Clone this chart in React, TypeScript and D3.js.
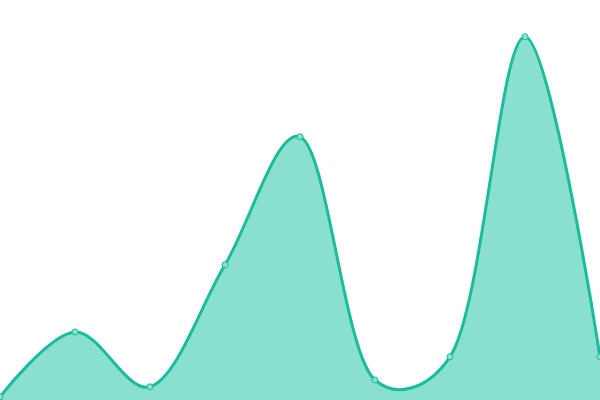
import React from "react";
import * as d3 from "d3";

const width = 600;
const height = 400;

// sample index and value (scale 0..100)
const steps = [0, 1, 2, 3, 4, 5, 6, 7, 8];
const values = [0.8, 17, 3.3, 33.8, 65.8, 5, 10.8, 90.8, 10.8];

const lineColor = "#1abc9c";
const fillColor = "#8ae0cf";

export default function App() {
  const x = d3.scaleLinear().domain([0, steps.length - 1]).range([0, width]);
  const y = d3.scaleLinear().domain([0, 100]).range([height, 0]);

  const data = steps.map((s, i) => ({ s, v: values[i] }));
  const curve = d3.curveCatmullRom.alpha(0.3);

  const area = d3
    .area<{ s: number; v: number }>()
    .x((d) => x(d.s))
    .y0(height)
    .y1((d) => y(d.v))
    .curve(curve);

  const line = d3
    .line<{ s: number; v: number }>()
    .x((d) => x(d.s))
    .y((d) => y(d.v))
    .curve(curve);

  return (
    <svg
      width={width}
      height={height}
      style={{ position: "absolute", top: 0, left: 0, display: "block" }}
    >
      <rect width={width} height={height} fill="#ffffff" />
      <path d={area(data) || ""} fill={fillColor} />
      <path d={line(data) || ""} fill="none" stroke={lineColor} strokeWidth={3} />
      {data.map((d) => (
        <circle
          key={d.s}
          cx={x(d.s)}
          cy={y(d.v)}
          r={3}
          fill={fillColor}
          stroke={lineColor}
          strokeWidth={1}
        />
      ))}
    </svg>
  );
}
